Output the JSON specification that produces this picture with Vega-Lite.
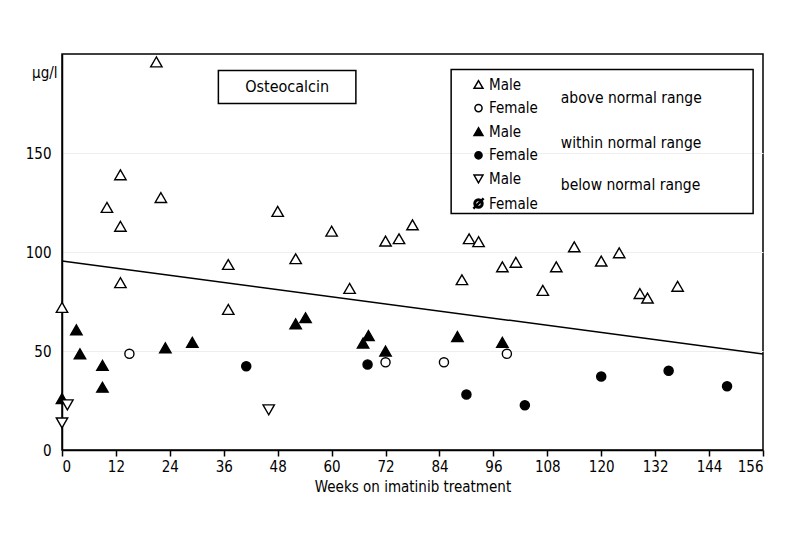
{
  "$schema": "https://vega.github.io/schema/vega-lite/v6.json",
  "width": 701,
  "height": 396,
  "autosize": "none",
  "padding": {"left": 62, "top": 54, "right": 37, "bottom": 110},
  "background": "white",
  "config": {
    "font": "DejaVu Sans Condensed",
    "view": {"stroke": "black", "strokeWidth": 1.5},
    "axis": {
      "labelFont": "DejaVu Sans Condensed",
      "labelFontSize": 15,
      "labelColor": "black",
      "titleFont": "DejaVu Sans Condensed",
      "titleFontSize": 15,
      "titleFontWeight": "normal",
      "titleColor": "black",
      "domainColor": "black",
      "domainWidth": 1.5,
      "tickColor": "black",
      "tickWidth": 1.5,
      "gridColor": "#eeeeee",
      "gridWidth": 1
    },
    "legend": {
      "orient": "none",
      "legendX": 409,
      "legendY": 23,
      "padding": 0,
      "labelFont": "DejaVu Sans Condensed",
      "labelFontSize": 15,
      "labelColor": "black",
      "labelOffset": 3,
      "symbolSize": 80,
      "symbolStrokeWidth": 1.5,
      "rowPadding": 7.6
    },
    "text": {"font": "DejaVu Sans Condensed"}
  },
  "datasets": {
    "points": [
      {"week": 0, "value": 72, "group": "Male above"},
      {"week": 10, "value": 122.5, "group": "Male above"},
      {"week": 13, "value": 139, "group": "Male above"},
      {"week": 13, "value": 113, "group": "Male above"},
      {"week": 13, "value": 84.5, "group": "Male above"},
      {"week": 21, "value": 196, "group": "Male above"},
      {"week": 22, "value": 127.5, "group": "Male above"},
      {"week": 37, "value": 93.7, "group": "Male above"},
      {"week": 37, "value": 71, "group": "Male above"},
      {"week": 48, "value": 120.5, "group": "Male above"},
      {"week": 52, "value": 96.6, "group": "Male above"},
      {"week": 60, "value": 110.5, "group": "Male above"},
      {"week": 64, "value": 81.6, "group": "Male above"},
      {"week": 72, "value": 105.5, "group": "Male above"},
      {"week": 75, "value": 106.7, "group": "Male above"},
      {"week": 78, "value": 113.7, "group": "Male above"},
      {"week": 89, "value": 86, "group": "Male above"},
      {"week": 90.6, "value": 106.7, "group": "Male above"},
      {"week": 92.7, "value": 105.2, "group": "Male above"},
      {"week": 98, "value": 92.5, "group": "Male above"},
      {"week": 101, "value": 94.8, "group": "Male above"},
      {"week": 107, "value": 80.6, "group": "Male above"},
      {"week": 110, "value": 92.5, "group": "Male above"},
      {"week": 114, "value": 102.6, "group": "Male above"},
      {"week": 120, "value": 95.4, "group": "Male above"},
      {"week": 124, "value": 99.6, "group": "Male above"},
      {"week": 128.6, "value": 79, "group": "Male above"},
      {"week": 130.3, "value": 76.7, "group": "Male above"},
      {"week": 137, "value": 82.7, "group": "Male above"},
      {"week": 15, "value": 48.6, "group": "Female above"},
      {"week": 72, "value": 44.3, "group": "Female above"},
      {"week": 85, "value": 44.3, "group": "Female above"},
      {"week": 99, "value": 48.6, "group": "Female above"},
      {"week": 0, "value": 26, "group": "Male within"},
      {"week": 3.2, "value": 60.7, "group": "Male within"},
      {"week": 4, "value": 48.6, "group": "Male within"},
      {"week": 9, "value": 42.7, "group": "Male within"},
      {"week": 9, "value": 31.7, "group": "Male within"},
      {"week": 23, "value": 51.6, "group": "Male within"},
      {"week": 29, "value": 54.4, "group": "Male within"},
      {"week": 52, "value": 63.7, "group": "Male within"},
      {"week": 54.2, "value": 66.8, "group": "Male within"},
      {"week": 67, "value": 54, "group": "Male within"},
      {"week": 68.2, "value": 57.8, "group": "Male within"},
      {"week": 72, "value": 50, "group": "Male within"},
      {"week": 88, "value": 57.3, "group": "Male within"},
      {"week": 98, "value": 54.4, "group": "Male within"},
      {"week": 41, "value": 42.3, "group": "Female within"},
      {"week": 68, "value": 43.2, "group": "Female within"},
      {"week": 90, "value": 28, "group": "Female within"},
      {"week": 103, "value": 22.6, "group": "Female within"},
      {"week": 120, "value": 37.1, "group": "Female within"},
      {"week": 135, "value": 40, "group": "Female within"},
      {"week": 148, "value": 32.2, "group": "Female within"},
      {"week": 0, "value": 13.7, "group": "Male below"},
      {"week": 1.2, "value": 22.8, "group": "Male below"},
      {"week": 46, "value": 20.3, "group": "Male below"}
    ],
    "fit": [
      {"week": 0, "value": 95.5},
      {"week": 156, "value": 48.5}
    ]
  },
  "layer": [
    {
      "data": {"name": "fit"},
      "mark": {"type": "line", "color": "black", "strokeWidth": 1.5},
      "encoding": {
        "x": {
          "field": "week", "type": "quantitative",
          "scale": {"domain": [0, 156], "nice": false},
          "axis": {
            "values": [0, 12, 24, 36, 48, 60, 72, 84, 96, 108, 120, 132, 144, 156],
            "grid": false,
            "tickSize": 6,
            "labelPadding": 3,
            "title": "Weeks on imatinib treatment",
            "titlePadding": 5
          }
        },
        "y": {
          "field": "value", "type": "quantitative",
          "scale": {"domain": [0, 200], "nice": false},
          "axis": {
            "values": [0, 50, 100, 150],
            "grid": true,
            "ticks": false,
            "labelPadding": 11,
            "title": "µg/l",
            "titleAngle": 0,
            "titleAlign": "right",
            "titleBaseline": "middle",
            "titleX": -5,
            "titleY": 18
          }
        }
      }
    },
    {
      "data": {"name": "points"},
      "mark": {"type": "point", "filled": true, "strokeWidth": 1.4, "opacity": 1, "size": 130},
      "encoding": {
        "x": {"field": "week", "type": "quantitative"},
        "y": {"field": "value", "type": "quantitative"},
        "shape": {
          "field": "group", "type": "nominal",
          "scale": {
            "domain": ["Male above", "Female above", "Male within", "Female within", "Male below", "Female below"],
            "range": ["triangle-up", "M-0.8,0A0.8,0.8,0,1,1,0.8,0A0.8,0.8,0,1,1,-0.8,0Z", "triangle-up", "M-0.8,0A0.8,0.8,0,1,1,0.8,0A0.8,0.8,0,1,1,-0.8,0Z", "triangle-down", "M-1,0A1,1,0,1,1,1,0A1,1,0,1,1,-1,0Z M-0.68,0A0.68,0.68,0,1,0,0.68,0A0.68,0.68,0,1,0,-0.68,0Z M-1.1,0.95L0.95,-1.1L1.1,-0.95L-0.95,1.1Z"]
          },
          "legend": {"title": null, "labelExpr": "split(datum.label, ' ')[0]"}
        },
        "fill": {
          "field": "group", "type": "nominal",
          "scale": {
            "domain": ["Male above", "Female above", "Male within", "Female within", "Male below", "Female below"],
            "range": ["white", "white", "black", "black", "white", "black"]
          },
          "legend": {"title": null, "labelExpr": "split(datum.label, ' ')[0]"}
        },
        "stroke": {
          "field": "group", "type": "nominal",
          "scale": {
            "domain": ["Male above", "Female above", "Male within", "Female within", "Male below", "Female below"],
            "range": ["black", "black", "black", "black", "black", "black"]
          },
          "legend": {"title": null, "labelExpr": "split(datum.label, ' ')[0]"}
        }
      }
    },
    {
      "data": {"values": [{}]},
      "mark": {"type": "rect", "filled": false, "stroke": "black", "strokeWidth": 1.5},
      "encoding": {
        "x": {"datum": 86.6, "type": "quantitative"},
        "x2": {"datum": 153.8},
        "y": {"datum": 192.2, "type": "quantitative"},
        "y2": {"datum": 119.4}
      }
    },
    {
      "data": {"values": [{}]},
      "mark": {"type": "rect", "filled": false, "stroke": "black", "strokeWidth": 1.5},
      "encoding": {
        "x": {"datum": 34.8, "type": "quantitative"},
        "x2": {"datum": 65.4},
        "y": {"datum": 191.7, "type": "quantitative"},
        "y2": {"datum": 175.0}
      }
    },
    {
      "data": {"values": [{}]},
      "mark": {"type": "text", "text": "Osteocalcin", "fontSize": 16, "align": "center", "baseline": "middle", "color": "black"},
      "encoding": {
        "x": {"datum": 50.1, "type": "quantitative"},
        "y": {"datum": 183.3, "type": "quantitative"}
      }
    },
    {
      "data": {"values": [{}]},
      "mark": {"type": "text", "text": "above normal range", "fontSize": 15.5, "align": "left", "baseline": "middle", "color": "black"},
      "encoding": {
        "x": {"datum": 111, "type": "quantitative"},
        "y": {"datum": 178, "type": "quantitative"}
      }
    },
    {
      "data": {"values": [{}]},
      "mark": {"type": "text", "text": "within normal range", "fontSize": 15.5, "align": "left", "baseline": "middle", "color": "black"},
      "encoding": {
        "x": {"datum": 111, "type": "quantitative"},
        "y": {"datum": 154.8, "type": "quantitative"}
      }
    },
    {
      "data": {"values": [{}]},
      "mark": {"type": "text", "text": "below normal range", "fontSize": 15.5, "align": "left", "baseline": "middle", "color": "black"},
      "encoding": {
        "x": {"datum": 111, "type": "quantitative"},
        "y": {"datum": 133.6, "type": "quantitative"}
      }
    }
  ]
}
